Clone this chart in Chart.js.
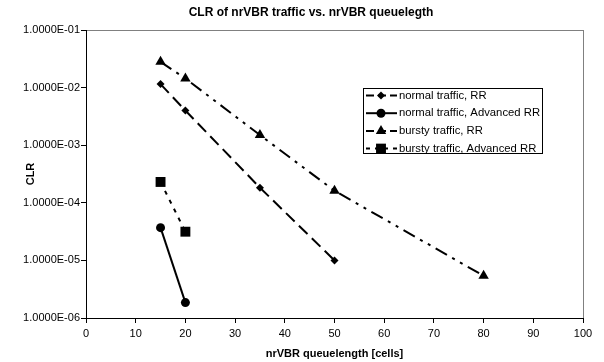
<!DOCTYPE html>
<html>
<head>
<meta charset="utf-8">
<script src="https://cdn.jsdelivr.net/npm/chart.js@4/dist/chart.umd.min.js"></script>
<style>
    html, body { margin: 0; padding: 0; background: #fff; }
    #wrap { width: 604px; height: 362px; }
</style>
</head>
<body>
<div id="wrap"><canvas id="myChart" width="604" height="362"></canvas></div>
<script>
// values
const normalRR_x = [15, 20, 35, 50];
const normalRR_y = [1.15e-2, 4.0e-3, 1.83e-4, 1.0e-5];
const normalAdv_x = [15, 20];
const normalAdv_y = [3.7e-5, 1.85e-6];
const burstyRR_x = [15, 20, 35, 50, 80];
const burstyRR_y = [2.8e-2, 1.44e-2, 1.5e-3, 1.62e-4, 5.4e-6];
const burstyAdv_x = [15, 20];
const burstyAdv_y = [2.3e-4, 3.15e-5];

const seriesNames = ['normal traffic, RR', 'normal traffic, Advanced RR', 'bursty traffic, RR', 'bursty traffic, Advanced RR'];
const chartTitle = 'CLR of nrVBR traffic vs. nrVBR queuelegth';
const yTicks = [1e-1, 1e-2, 1e-3, 1e-4, 1e-5, 1e-6];
const yTickLabels = ['1.0000E-01', '1.0000E-02', '1.0000E-03', '1.0000E-04', '1.0000E-05', '1.0000E-06'];

const toPoints = (xs, ys) => xs.map((x, i) => ({ x: x, y: ys[i] }));

Chart.defaults.font.family = '"Liberation Sans", Arial, sans-serif';
Chart.defaults.color = '#000';

const ctx = document.getElementById('myChart').getContext('2d');

// gray frame round the plot area, drawn before the black axes
const plotFrame = {
    id: 'plotFrame',
    beforeDraw(chart) {
        const { ctx, chartArea: a } = chart;
        ctx.save();
        ctx.strokeStyle = '#808080';
        ctx.lineWidth = 1;
        ctx.strokeRect(Math.round(a.left) + 0.5, Math.round(a.top) + 0.5,
                       Math.round(a.right - a.left), Math.round(a.bottom - a.top));
        ctx.restore();
    }
};

// title sits a bit right of the canvas centre, like excel put it
const topTitle = {
    id: 'topTitle',
    afterDraw(chart) {
        const { ctx } = chart;
        ctx.save();
        ctx.fillStyle = '#000';
        ctx.font = 'bold 12px "Liberation Sans", Arial, sans-serif';
        ctx.textAlign = 'center';
        ctx.textBaseline = 'middle';
        ctx.fillText(chartTitle, 311, 13);
        ctx.restore();
    }
};

// excel-like legend box with line + marker samples
const boxLegend = {
    id: 'boxLegend',
    afterDraw(chart) {
        const { ctx } = chart;
        const left = 363, top = 88, w = 179, h = 65, rowH = 17.7;
        ctx.save();
        ctx.fillStyle = '#fff';
        ctx.fillRect(left, top, w, h);
        ctx.strokeStyle = '#000';
        ctx.lineWidth = 1;
        ctx.strokeRect(left + 0.5, top + 0.5, w, h);
        chart.data.datasets.forEach((ds, i) => {
            const y = top + 7.5 + i * rowH;
            ctx.beginPath();
            ctx.setLineDash(ds.legendDash || []);
            ctx.lineWidth = ds.borderWidth;
            ctx.strokeStyle = '#000';
            ctx.moveTo(left + 3, y);
            ctx.lineTo(left + 34, y);
            ctx.stroke();
            ctx.setLineDash([]);
            ctx.fillStyle = '#000';
            Chart.helpers.drawPoint(ctx, {
                pointStyle: ds.pointStyle,
                radius: ds.pointRadius,
                borderWidth: 0,
                rotation: 0
            }, left + 18, y);
            ctx.fillStyle = '#000';
            ctx.font = '11.3px "Liberation Sans", Arial, sans-serif';
            ctx.textBaseline = 'middle';
            ctx.textAlign = 'left';
            ctx.fillText(ds.label, left + 36, y);
        });
        ctx.restore();
    }
};

const lineSet = (label, pts, dash, legendDash, style, r) => ({
    label: label,
    data: pts,
    borderColor: '#000',
    backgroundColor: '#000',
    borderWidth: 2,
    borderDash: dash,
    legendDash: legendDash,
    pointStyle: style,
    pointRadius: r,
    pointHoverRadius: r,
    pointBorderWidth: 0,
    pointBackgroundColor: '#000',
    tension: 0,
    fill: false
});

new Chart(ctx, {
    type: 'line',
    data: {
        datasets: [
            lineSet(seriesNames[0], toPoints(normalRR_x, normalRR_y), [12, 6], [8, 4], 'rectRot', 4),
            lineSet(seriesNames[1], toPoints(normalAdv_x, normalAdv_y), [], [], 'circle', 4.5),
            lineSet(seriesNames[2], toPoints(burstyRR_x, burstyRR_y), [13, 6, 3, 6, 3, 6], [8, 4], 'triangle', 6),
            lineSet(seriesNames[3], toPoints(burstyAdv_x, burstyAdv_y), [4, 6], [4, 5], 'rect', 7)
        ]
    },
    options: {
        responsive: false,
        animation: false,
        events: [],
        layout: { padding: { top: 30, right: 21, left: 0, bottom: 0 } },
        plugins: {
            legend: { display: false },
            tooltip: { enabled: false },
            title: { display: false }
        },
        scales: {
            x: {
                type: 'linear',
                min: 0,
                max: 100,
                ticks: { stepSize: 10, font: { size: 11 }, padding: 4, maxRotation: 0 },
                grid: { drawOnChartArea: false, drawTicks: true, tickLength: 5, color: '#000' },
                border: { display: true, color: '#000', width: 1 },
                title: {
                    display: true,
                    text: 'nrVBR queuelength [cells]',
                    font: { size: 11, weight: 'bold' },
                    padding: { top: 0, bottom: 1 }
                },
                afterFit(scale) { scale.height = 44; }
            },
            y: {
                type: 'logarithmic',
                min: 1e-6,
                max: 1e-1,
                afterBuildTicks(scale) {
                    scale.ticks = yTicks.map(v => ({ value: v, major: true }));
                },
                ticks: {
                    font: { size: 11 },
                    padding: 1,
                    autoSkip: false,
                    callback: (v) => yTickLabels[yTicks.findIndex(t => Math.abs(Math.log10(t) - Math.log10(v)) < 1e-6)]
                },
                grid: { drawOnChartArea: false, drawTicks: true, tickLength: 5, color: '#000' },
                border: { display: true, color: '#000', width: 1 },
                title: {
                    display: true,
                    text: 'CLR',
                    font: { size: 11, weight: 'bold' },
                    padding: { top: 24, bottom: 0 }
                },
                afterFit(scale) { scale.width = 86; }
            }
        }
    },
    plugins: [plotFrame, topTitle, boxLegend]
});
</script>
</body>
</html>
